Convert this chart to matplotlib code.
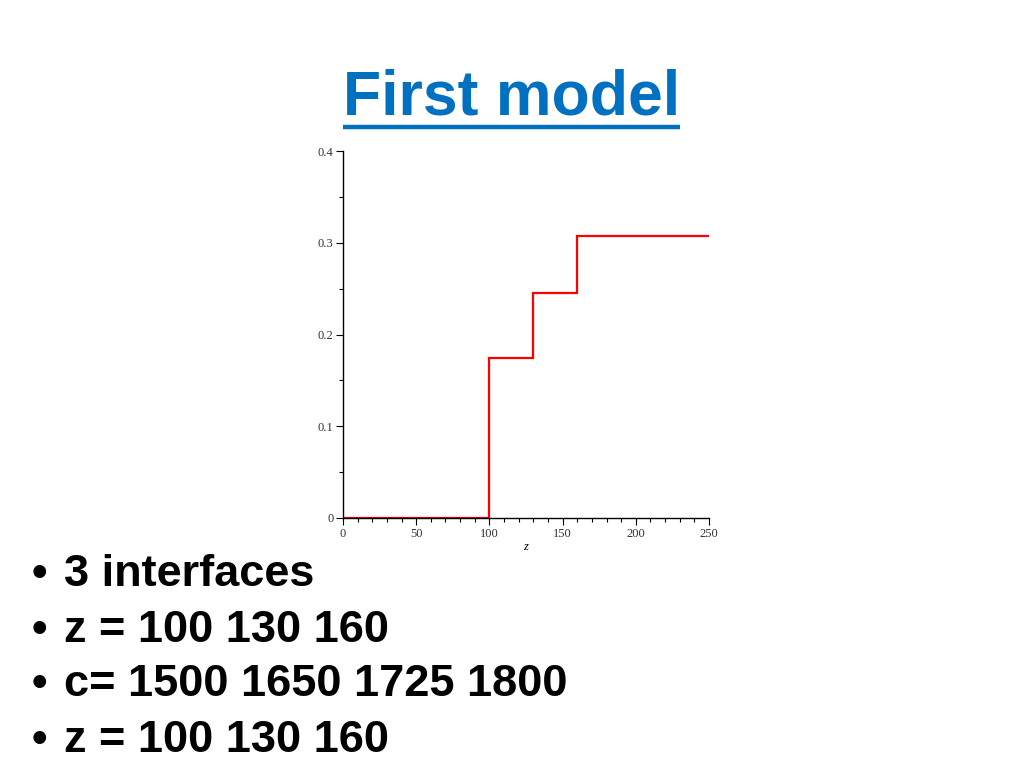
import matplotlib
matplotlib.use("Agg")
import matplotlib.pyplot as plt
from matplotlib.lines import Line2D
from matplotlib.ticker import MultipleLocator

# Data
z_edges = [0, 100, 130, 160, 250]
levels = [0.0, 0.174, 0.245, 0.307]
x_ticks = [0, 50, 100, 150, 200, 250]
y_ticks = [0, 0.1, 0.2, 0.3, 0.4]
title_text = "First model"
bullets = ["3 interfaces", "z = 100 130 160", "c= 1500 1650 1725 1800", "z = 100 130 160"]

fig = plt.figure(figsize=(10.24, 7.68), dpi=100)
ax = fig.add_axes([343/1024, 1-518/768, 366/1024, 367/768])

xs, ys = [], []
for i, lv in enumerate(levels):
    xs += [z_edges[i], z_edges[i+1]]
    ys += [lv, lv]
ax.plot(xs, ys, color="#ff0000", lw=1.6, solid_joinstyle="miter")

ax.set_xlim(0, 250)
ax.set_ylim(0, 0.4)
ax.set_xticks(x_ticks)
ax.set_yticks(y_ticks)
ax.set_xticklabels([str(v) for v in x_ticks])
ax.set_yticklabels(["0", "0.1", "0.2", "0.3", "0.4"])
ax.xaxis.set_minor_locator(MultipleLocator(10))
ax.yaxis.set_minor_locator(MultipleLocator(0.05))
for s in ["top", "right"]:
    ax.spines[s].set_visible(False)
for s in ["left", "bottom"]:
    ax.spines[s].set_linewidth(1.0)
ax.tick_params(which="major", length=5, width=0.8, labelsize=9, pad=2)
ax.tick_params(which="minor", length=3, width=0.8)
for lab in ax.get_xticklabels() + ax.get_yticklabels():
    lab.set_family(["Liberation Serif", "DejaVu Serif"])
    lab.set_color("#333333")
ax.set_xlabel("z", family=["Liberation Serif", "DejaVu Serif"], style="italic",
              fontsize=9, labelpad=1)
ax.set_facecolor("white")

# Title with underline
t = fig.text(343/1024, 1-98/768, title_text, color="#0070C0", fontsize=45,
             fontweight="bold", family=["Liberation Sans", "DejaVu Sans"],
             ha="left", va="center")
fig.canvas.draw()
bb = t.get_window_extent(renderer=fig.canvas.get_renderer())
x0, x1 = bb.x0 / 1024, bb.x1 / 1024
yl = 1 - 127/768
fig.add_artist(Line2D([x0, x1], [yl, yl], color="#0070C0", lw=3.2,
                      solid_capstyle="butt"))

# Bullets
ys_b = [575, 630, 685, 740]
for txt, yb in zip(bullets, ys_b):
    fig.text(32/1024, 1-yb/768, "•", fontsize=32, fontweight="bold",
             family=["Liberation Sans", "DejaVu Sans"], ha="left", va="center")
    fig.text(64/1024, 1-yb/768, txt, fontsize=32.5, fontweight="bold",
             family=["Liberation Sans Narrow", "Liberation Sans", "DejaVu Sans"],
             ha="left", va="center")

fig.savefig("out.png", dpi=100, facecolor="white")
